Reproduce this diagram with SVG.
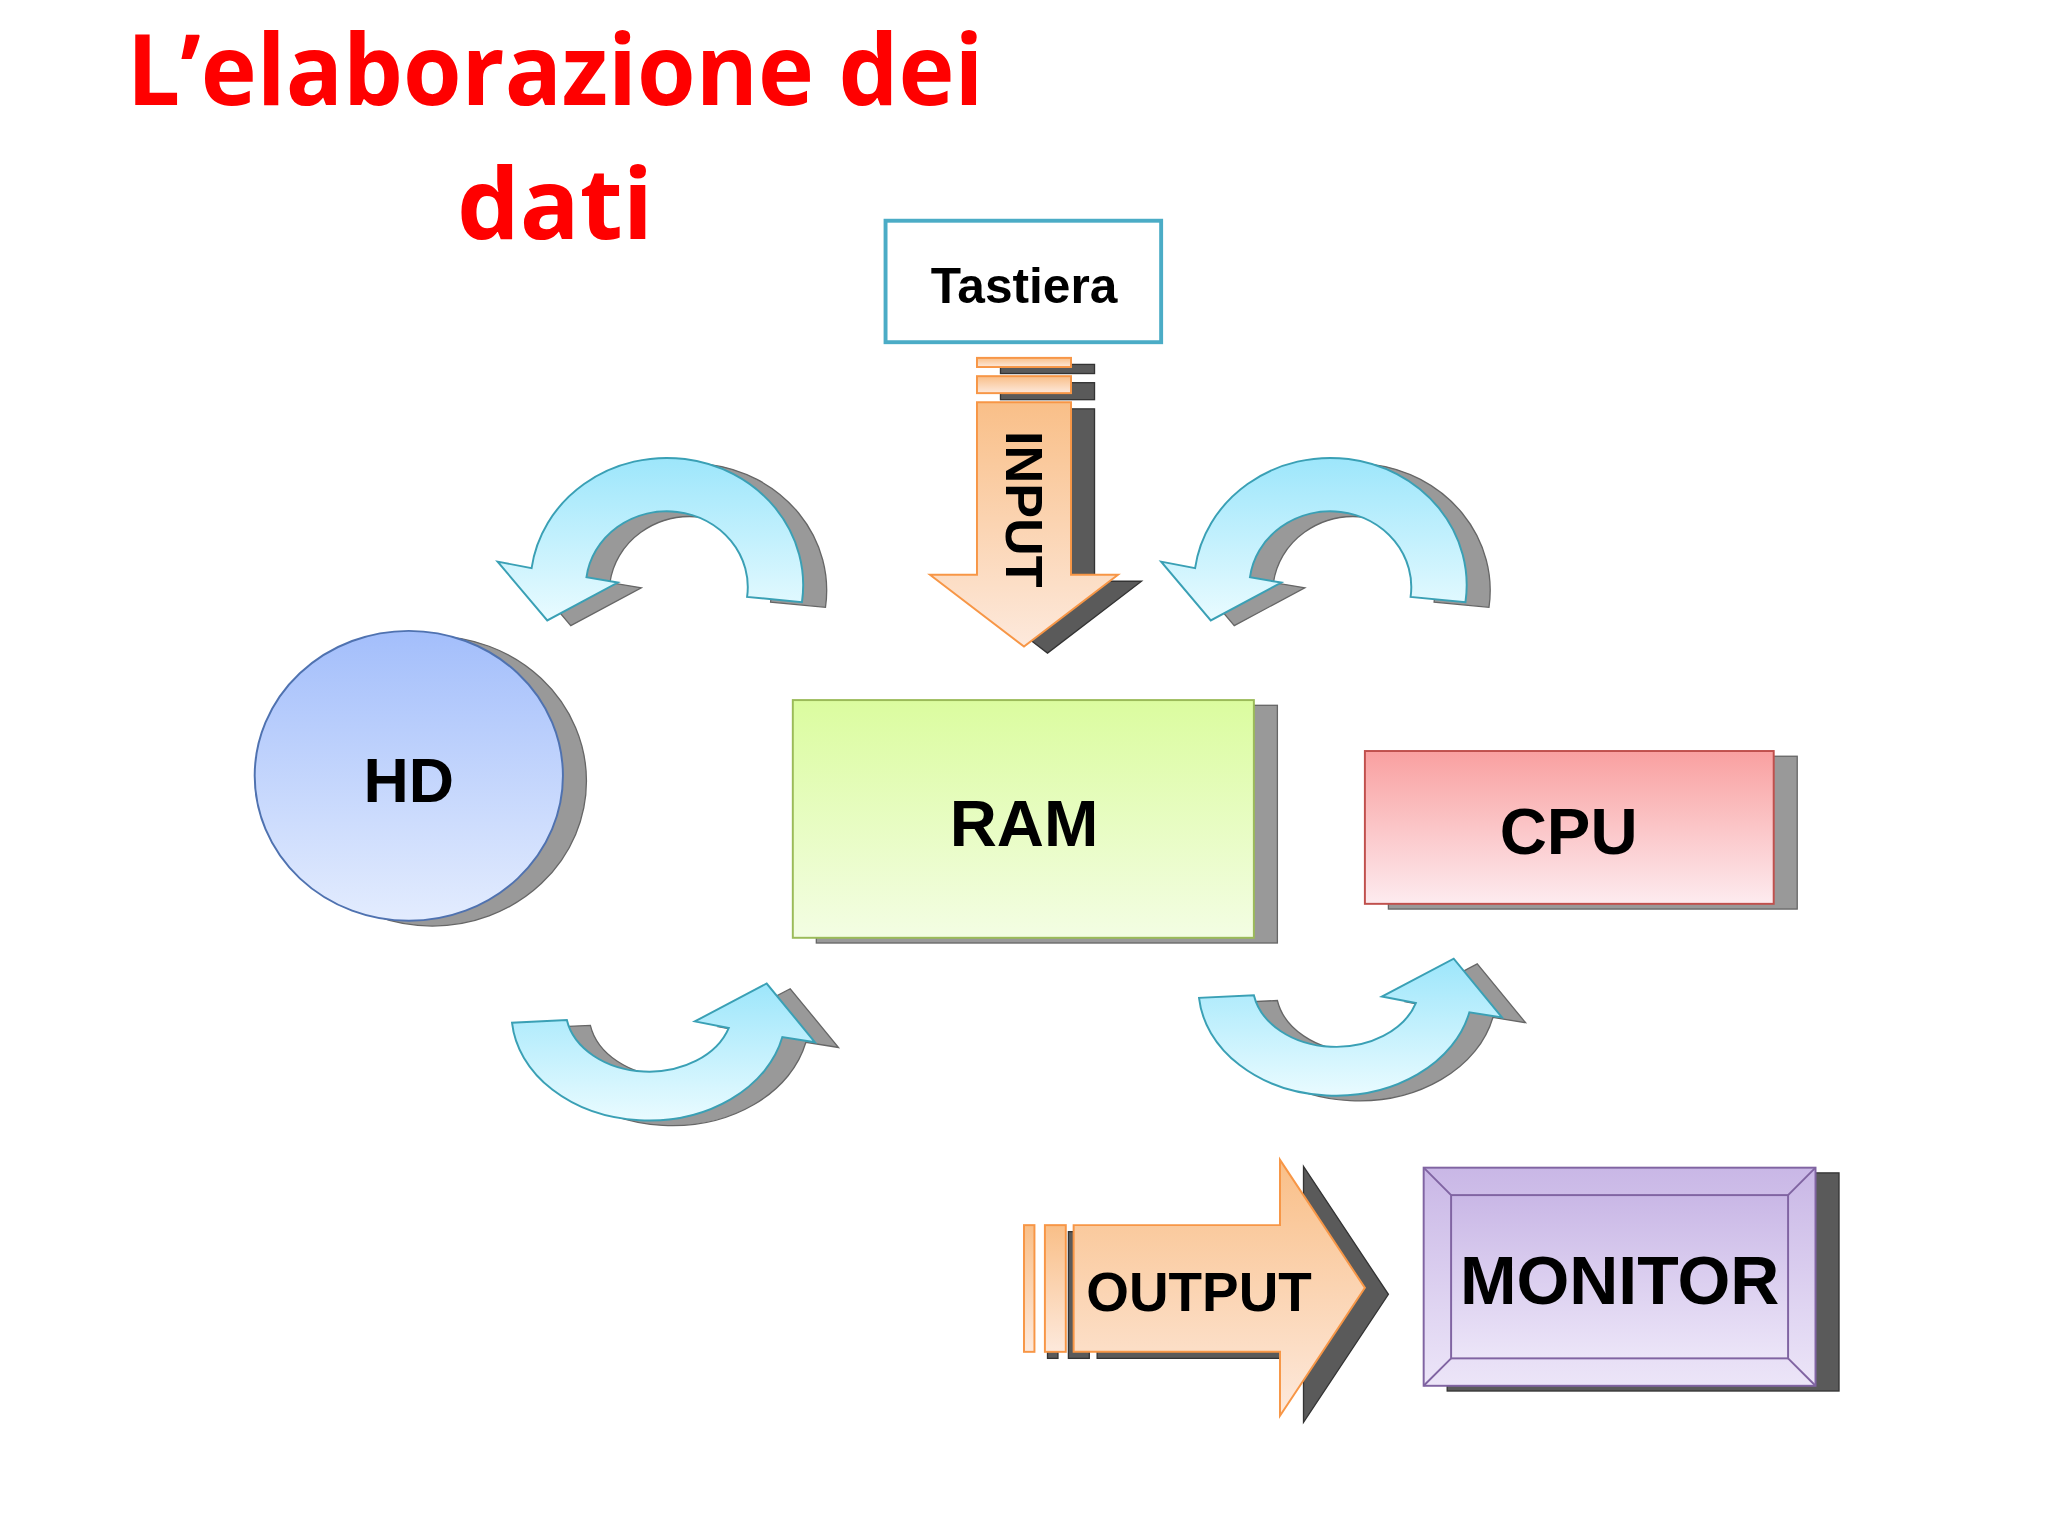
<svg xmlns="http://www.w3.org/2000/svg" width="2048" height="1536" viewBox="0 0 2048 1536">
<style>
.t{font-family:"Liberation Sans",Arial,sans-serif;font-weight:bold;fill:#000;text-anchor:middle}
.cy{fill:url(#gCy);stroke:#3aa0b5;stroke-width:1.5}
.sh{fill:#999;stroke:#666;stroke-width:1}
.dk{fill:#5a5a5a;stroke:#333;stroke-width:1}
.or{fill:url(#gOr);stroke:#f79646;stroke-width:1.5}
</style>
<defs>
<linearGradient id="gCy" x1="0" y1="0" x2="0" y2="1"><stop offset="0" stop-color="#9de6fb"/><stop offset="1" stop-color="#e9fbff"/></linearGradient>
<linearGradient id="gOr" x1="0" y1="0" x2="0" y2="1"><stop offset="0" stop-color="#f9bf88"/><stop offset="1" stop-color="#fde9dc"/></linearGradient>
<linearGradient id="gOrH" x1="0" y1="0" x2="0" y2="1"><stop offset="0" stop-color="#f9bf88"/><stop offset="1" stop-color="#fde9dc"/></linearGradient>
<linearGradient id="gHD" x1="0" y1="0" x2="0" y2="1"><stop offset="0" stop-color="#a3befb"/><stop offset="1" stop-color="#e3ecfe"/></linearGradient>
<linearGradient id="gRAM" x1="0" y1="0" x2="0" y2="1"><stop offset="0" stop-color="#dbfc9f"/><stop offset="1" stop-color="#f3fde3"/></linearGradient>
<linearGradient id="gCPU" x1="0" y1="0" x2="0" y2="1"><stop offset="0" stop-color="#f9a0a0"/><stop offset="1" stop-color="#fdebef"/></linearGradient>
<linearGradient id="gMON" x1="0" y1="0" x2="0" y2="1"><stop offset="0" stop-color="#c9b7e6"/><stop offset="1" stop-color="#ece5f8"/></linearGradient>
<path id="arcTop" d="M614,461 A104,97 0 0 0 407,435 L381,430 L419,475 L473,446 L449,442 A62,58 0 0 1 572,457 Z"/>
<path id="arcBot" d="M392,783 A105,82 0 0 0 599,794 L624,798 L587,753 L532,782 L558,787 A64,48 0 0 1 434,781 Z"/>
</defs>
<rect width="2048" height="1536" fill="#fff"/>
<g transform="scale(1.30612)">
<g id="title">
<text x="425" y="80" style="font-family:'Open Sans','Liberation Sans',sans-serif;font-weight:bold;font-size:76px;fill:#f00;text-anchor:middle" textLength="656" lengthAdjust="spacingAndGlyphs">L’elaborazione dei</text>
<text x="425" y="183" style="font-family:'Open Sans','Liberation Sans',sans-serif;font-weight:bold;font-size:76px;fill:#f00;text-anchor:middle">dati</text>
</g>
<g id="connectors">
<g id="arrow-hd-top"><use href="#arcTop" class="sh" transform="translate(18,4)"/><use href="#arcTop" class="cy"/></g>
<g id="arrow-cpu-top"><use href="#arcTop" class="sh" transform="translate(526,4)"/><use href="#arcTop" class="cy" transform="translate(508,0)"/></g>
<g id="arrow-hd-bottom"><use href="#arcBot" class="sh" transform="translate(18,4)"/><use href="#arcBot" class="cy"/></g>
<g id="arrow-cpu-bottom"><use href="#arcBot" class="sh" transform="translate(544,-15)"/><use href="#arcBot" class="cy" transform="translate(526,-19)"/></g>
<g id="input-arrow">
<g class="dk" transform="translate(18,5)">
<rect x="748" y="274" width="72" height="7"/><rect x="748" y="288" width="72" height="13"/>
<path d="M748,308 H820 V440 H856 L784,495 L712,440 H748 Z"/></g>
<rect class="or" x="748" y="274" width="72" height="7"/><rect class="or" x="748" y="288" width="72" height="13"/>
<path class="or" d="M748,308 H820 V440 H856 L784,495 L712,440 H748 Z"/>
<text class="t" font-size="40" transform="translate(770,390) rotate(90)">INPUT</text>
</g>
<g id="output-arrow">
<g class="dk" transform="translate(18,5)">
<rect x="784" y="938" width="8" height="97"/><rect x="800" y="938" width="16" height="97"/>
<path d="M822,938 H980 V888 L1045,986 L980,1084 V1035 H822 Z"/></g>
<rect class="or" x="784" y="938" width="8" height="97"/><rect class="or" x="800" y="938" width="16" height="97"/>
<path class="or" d="M822,938 H980 V888 L1045,986 L980,1084 V1035 H822 Z"/>
<text class="t" font-size="42" x="918" y="1004">OUTPUT</text>
</g>
</g>
<g id="tastiera">
<rect x="678" y="169" width="211" height="93" fill="#fff" stroke="#4bacc6" stroke-width="3"/>
<text class="t" font-size="38" x="784" y="232">Tastiera</text>
</g>
<g id="hd">
<ellipse cx="331" cy="598" rx="118" ry="111" fill="#999" stroke="#666"/>
<ellipse cx="313" cy="594" rx="118" ry="111" fill="url(#gHD)" stroke="#4f72b0" stroke-width="1.5"/>
<text class="t" font-size="48" x="313" y="614">HD</text>
</g>
<g id="ram">
<rect x="625" y="540" width="353" height="182" fill="#999" stroke="#666"/>
<rect x="607" y="536" width="353" height="182" fill="url(#gRAM)" stroke="#9bbb59" stroke-width="1.5"/>
<text class="t" font-size="50" x="784" y="648">RAM</text>
</g>
<g id="cpu">
<rect x="1063" y="579" width="313" height="117" fill="#999" stroke="#666"/>
<rect x="1045" y="575" width="313" height="117" fill="url(#gCPU)" stroke="#c0504d" stroke-width="1.5"/>
<text class="t" font-size="50" x="1201" y="654">CPU</text>
</g>
<g id="monitor">
<rect x="1108" y="898" width="300" height="167" fill="#5a5a5a" stroke="#333"/>
<rect x="1090" y="894" width="300" height="167" fill="url(#gMON)" stroke="#8064a2" stroke-width="1.5"/>
<rect x="1111" y="915" width="258" height="125" fill="url(#gMON)" stroke="#8064a2" stroke-width="1.5"/>
<path d="M1090,894 L1111,915 M1390,894 L1369,915 M1090,1061 L1111,1040 M1390,1061 L1369,1040" stroke="#8064a2" stroke-width="1.5"/>
<text class="t" font-size="52" x="1240" y="998">MONITOR</text>
</g>
</g>
</svg>
